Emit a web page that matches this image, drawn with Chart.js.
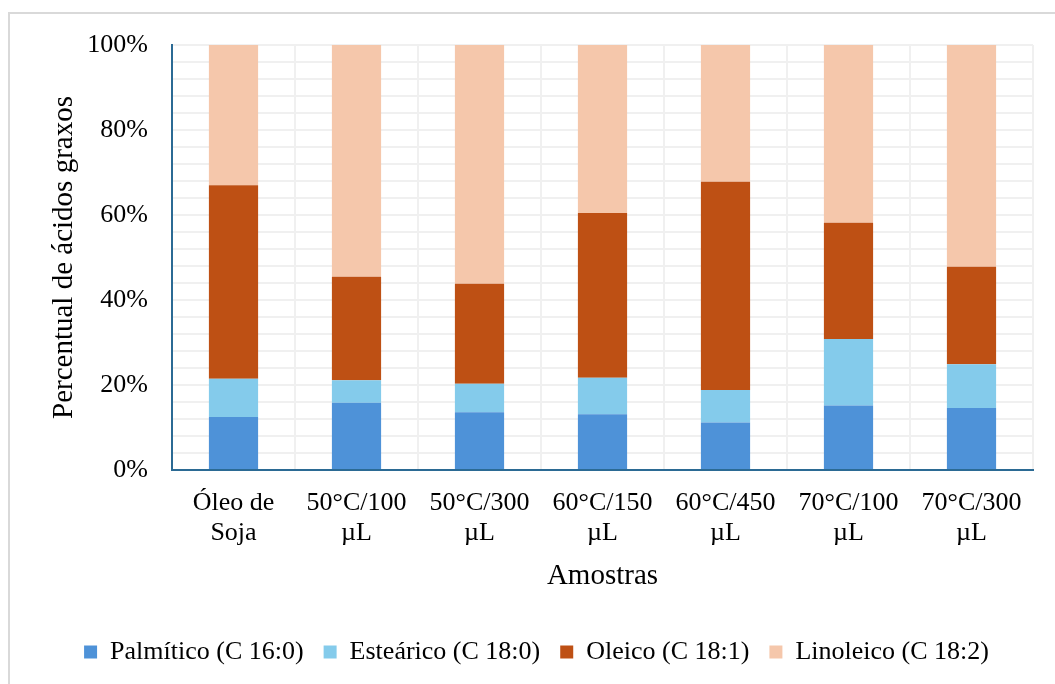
<!DOCTYPE html>
<html>
<head>
<meta charset="utf-8">
<script src="https://cdn.jsdelivr.net/npm/chart.js@4/dist/chart.umd.min.js"></script>
<style>
  html, body { margin: 0; padding: 0; background: #fff; overflow: hidden; }
  #frame { position: absolute; left: 8px; top: 12px; width: 1100px; height: 700px; border: 2px solid #d9d9d9; }
  #wrap { position: absolute; left: 0; top: 0; width: 1055px; height: 684px; }
</style>
</head>
<body>
<div id="frame"></div>
<div id="wrap"><canvas id="chart" width="1055" height="684"></canvas></div>
<script>
// amostras
const categories = [
  ['Óleo de', 'Soja'],
  ['50°C/100', 'µL'],
  ['50°C/300', 'µL'],
  ['60°C/150', 'µL'],
  ['60°C/450', 'µL'],
  ['70°C/100', 'µL'],
  ['70°C/300', 'µL']
];

// percentuais de cada ácido graxo
const palmitico = [12.5, 15.8, 13.6, 13.1, 11.2, 15.2, 14.6];
const estearico = [9.0, 5.3, 6.7, 8.6, 7.6, 15.6, 10.3];
const oleico    = [45.5, 24.4, 23.5, 38.8, 49.0, 27.4, 22.9];
const linoleico = [33.0, 54.5, 56.2, 39.5, 32.2, 41.8, 52.2];

const seriesNames = ['Palmítico (C 16:0)', 'Esteárico (C 18:0)', 'Oleico (C 18:1)', 'Linoleico (C 18:2)'];
const colors = ['#4e92d8', '#84cbeb', '#be5014', '#f5c7ab'];

const serif = '"Liberation Serif", "Times New Roman", serif';
Chart.defaults.font.family = serif;
Chart.defaults.color = '#000';

const values = [palmitico, estearico, oleico, linoleico];

new Chart(document.getElementById('chart').getContext('2d'), {
  type: 'bar',
  data: {
    labels: categories,
    datasets: values.map((d, i) => ({
      label: seriesNames[i],
      data: d,
      backgroundColor: colors[i],
      borderWidth: 0,
      categoryPercentage: 1,
      barPercentage: 0.4
    }))
  },
  options: {
    responsive: false,
    animation: false,
    layout: { padding: { left: 40, top: 45, right: 22, bottom: 9 } },
    plugins: {
      legend: {
        position: 'bottom',
        labels: {
          boxWidth: 13,
          boxHeight: 13,
          padding: 20,
          font: { size: 26 }
        }
      },
      tooltip: { enabled: false }
    },
    scales: {
      x: {
        stacked: true,
        grid: { color: '#f0f0f0', lineWidth: 2, drawTicks: false },
        border: { color: '#2b6a94', width: 2 },
        ticks: { padding: 18, font: { size: 26, lineHeight: 1.15 }, maxRotation: 0, autoSkip: false },
        title: { display: true, text: 'Amostras', font: { size: 29 }, padding: 25 },
        afterFit: s => { s.height = 149; }
      },
      y: {
        stacked: true,
        min: 0,
        max: 100,
        grid: { color: '#f0f0f0', lineWidth: 2, drawTicks: false },
        border: { color: '#2b6a94', width: 2 },
        ticks: {
          stepSize: 4,
          autoSkip: false,
          padding: 24,
          font: { size: 26 },
          callback: v => (v % 20 === 0 ? v + '%' : '')
        },
        title: { display: true, text: 'Percentual de ácidos graxos', font: { size: 29 }, padding: 7 },
        afterFit: s => { s.width = 132; }
      }
    }
  }
});
</script>
</body>
</html>
